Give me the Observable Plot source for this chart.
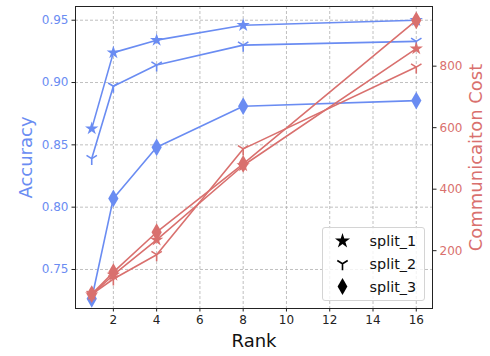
<!DOCTYPE html>
<html><head><meta charset="utf-8">
<script src="https://cdn.jsdelivr.net/npm/d3@7"></script>
<script src="https://cdn.jsdelivr.net/npm/@observablehq/plot@0.6"></script>
<style>
body{margin:0;background:#fff;}
#chart{position:relative;width:490px;height:356px;font-family:"DejaVu Sans",sans-serif;}
#chart > svg, #chart > div.layer{position:absolute;left:0;top:0;}
#legend{position:absolute;left:322px;top:227px;width:101px;height:72px;border:1px solid #d4d4d4;border-radius:3px;background:rgba(255,255,255,0.8);}
</style></head><body><div id="chart"></div>
<script>
// ---- data ----
const ranks = [1, 2, 4, 8, 16];
const splitNames = ["split_1", "split_2", "split_3"];
const accSplit1 = [0.863, 0.924, 0.934, 0.946, 0.950];
const accSplit2 = [0.839, 0.897, 0.914, 0.930, 0.933];
const accSplit3 = [0.7265, 0.807, 0.848, 0.881, 0.8855];
const costSplit1 = [57, 121, 235, 477, 857];
const costSplit2 = [58, 108, 187, 531, 797];
const costSplit3 = [59, 130, 260, 482, 949];
const xTicks = [2, 4, 6, 8, 10, 12, 14, 16];
const accTicks = [0.75, 0.80, 0.85, 0.90, 0.95];
const costTicks = [200, 400, 600, 800];

const blue = "#6a8cf2", red = "#d9706e";
const W = 490, H = 356, mL = 75, mR = 58, mT = 6, mB = 48;

const tri = { draw(ctx, size) { const L = Math.sqrt(size / Math.PI);
  ctx.moveTo(0, 0); ctx.lineTo(0, L);
  ctx.moveTo(0, 0); ctx.lineTo(-0.8 * L, -0.5 * L);
  ctx.moveTo(0, 0); ctx.lineTo(0.8 * L, -0.5 * L); } };

const rows = (arr, split) => ranks.map((r, i) => ({rank: r, value: arr[i], split}));
const accSeries = [rows(accSplit1, splitNames[0]), rows(accSplit2, splitNames[1]), rows(accSplit3, splitNames[2])];
const costSeries = [rows(costSplit1, splitNames[0]), rows(costSplit2, splitNames[1]), rows(costSplit3, splitNames[2])];

function seriesMarks(series, color) {
  const specs = [
    {symbol: "star", r: 4.2, filled: true},
    {symbol: tri, r: 6.5, filled: false},
    {symbol: "diamond", r: 5.4, filled: true}
  ];
  return series.flatMap((data, i) => [
    Plot.line(data, {x: "rank", y: "value", stroke: color, strokeWidth: 1.6}),
    specs[i].filled
      ? Plot.dot(data, {x: "rank", y: "value", symbol: specs[i].symbol, r: specs[i].r, fill: color, stroke: "none"})
      : Plot.dot(data, {x: "rank", y: "value", symbol: specs[i].symbol, r: specs[i].r, fill: "none", stroke: color, strokeWidth: 1.6})
  ]);
}

const common = {
  width: W, height: H, marginLeft: mL, marginRight: mR, marginTop: mT, marginBottom: mB,
  style: {fontFamily: "DejaVu Sans", fontSize: "12px", background: "transparent", overflow: "visible"}
};
const gridStyle = {stroke: "#b0b0b0", strokeOpacity: 1, strokeDasharray: "3,2", strokeWidth: 0.8};

const p1 = Plot.plot({
  ...common,
  x: {domain: [0.25, 16.75]},
  y: {domain: [0.7187, 0.961]},
  marks: [
    Plot.gridX(xTicks, gridStyle),
    Plot.gridY(accTicks, gridStyle),
    Plot.axisX(xTicks, {tickSize: 3.5, tickPadding: 3.5, stroke: "#222", color: "#222", label: null}),
    Plot.axisY(accTicks, {anchor: "left", tickSize: 3.5, tickPadding: 3.5, tickFormat: d3.format(".2f"), stroke: "#222", color: blue, label: null}),
    ...seriesMarks(accSeries, blue),
    Plot.text(["Accuracy"], {text: d => d, frameAnchor: "left", dx: -43.5, rotate: -90, lineAnchor: "bottom", textAnchor: "middle", fill: blue, fontSize: 18}),
    Plot.text(["Rank"], {text: d => d, frameAnchor: "bottom", dy: 38.5, lineAnchor: "bottom", textAnchor: "middle", fill: "#111", fontSize: 18})
  ]
});

const p2 = Plot.plot({
  ...common,
  x: {domain: [0.25, 16.75], axis: null},
  y: {domain: [12, 994]},
  marks: [
    ...seriesMarks(costSeries, red),
    Plot.frame({stroke: "#222", strokeWidth: 1}),
    Plot.axisY(costTicks, {anchor: "right", tickSize: 3.5, tickPadding: 3.5, tickFormat: d3.format("d"), stroke: "#222", color: red, label: null}),
    Plot.text(["Communicaiton Cost"], {text: d => d, frameAnchor: "right", dx: 49.5, rotate: -90, lineAnchor: "bottom", textAnchor: "middle", fill: red, fontSize: 18})
  ]
});

const chart = document.getElementById("chart");
chart.appendChild(p1);
chart.appendChild(p2);

// ---- legend ----
const legend = d3.select(chart).append("div").attr("id", "legend");
const lsvg = legend.append("svg").attr("width", 101).attr("height", 72);
const legendSyms = [
  {sym: d3.symbolStar, size: 70, filled: true},
  {sym: tri, size: Math.PI * 6.5 * 6.5, filled: false},
  {sym: d3.symbolDiamond, size: 83, filled: true}
];
splitNames.forEach((name, i) => {
  const g = lsvg.append("g").attr("transform", `translate(19.5,${13 + i * 22.8})`);
  const s = legendSyms[i];
  g.append("path").attr("d", d3.symbol(s.sym, s.size)())
    .attr("fill", s.filled ? "#000" : "none")
    .attr("stroke", s.filled ? "none" : "#000").attr("stroke-width", 1.6);
  lsvg.append("text").attr("x", 46.5).attr("y", 13 + i * 22.8).attr("dy", "0.35em")
    .attr("font-family", "DejaVu Sans").attr("font-size", 14.4).attr("fill", "#111").text(name);
});
</script></body></html>
